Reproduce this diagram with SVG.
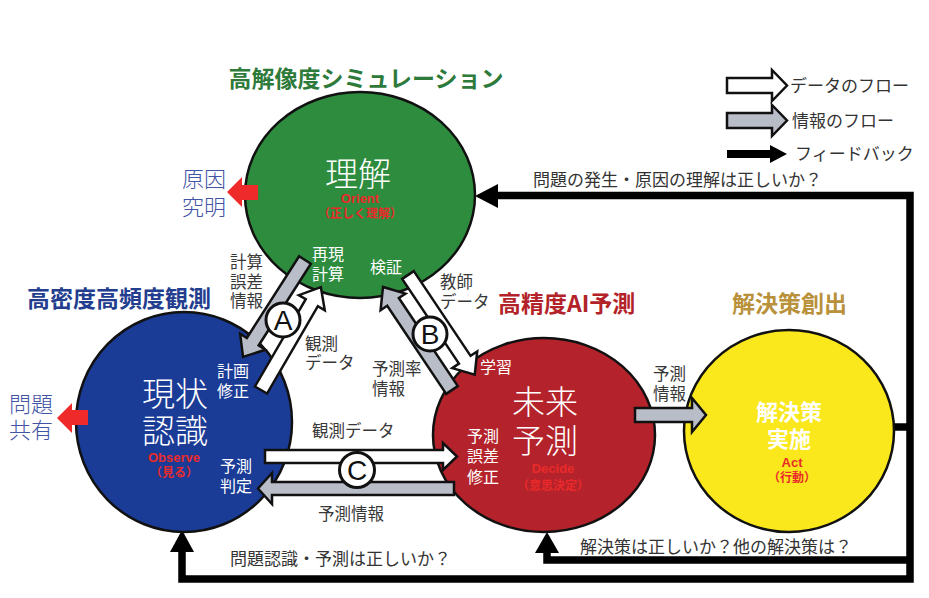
<svg xmlns="http://www.w3.org/2000/svg" width="929" height="598" viewBox="0 0 929 598">
<style>
text{font-family:"Noto Sans CJK JP","Noto Sans CJK SC",sans-serif;}
.node{stroke:#111;stroke-width:2.5;}
.title{font-size:23px;font-weight:bold;}
.big{font-size:33px;fill:#fff;font-weight:300;}
.wl{font-size:16px;fill:#fff;}
.lbl{font-size:16.5px;fill:#383838;}
.fbt{font-size:17px;fill:#333;}
.side{font-size:22px;fill:#4254a4;font-weight:300;}
.en{font-family:"Liberation Sans",Arial,sans-serif;font-weight:bold;font-size:13px;fill:#ea2a2a;}
.sub{font-size:12px;font-weight:bold;fill:#ea2a2a;}
.aw{fill:#fff;stroke:#111;stroke-width:2.5;}
.ag{fill:#b9bdc8;stroke:#111;stroke-width:2.5;}
.ab{fill:#000;}
.red{fill:#ee2a2a;}
.fb{fill:none;stroke:#000;stroke-width:7.5;}
.let{font-family:"Liberation Sans",Arial,sans-serif;font-size:28px;fill:#111;text-anchor:middle;}
.lc{fill:#fff;stroke:#111;stroke-width:3;}
.m{text-anchor:middle;}
</style>
<rect width="929" height="598" fill="#fff"/>

<!-- titles -->
<text class="title m" x="366" y="87" fill="#2d7a3a">高解像度シミュレーション</text>
<text class="title" x="27" y="307" fill="#233d8f">高密度高頻度観測</text>
<text class="title" x="498" y="312" fill="#b32228">高精度AI予測</text>
<text class="title" x="732" y="312" fill="#b8913a">解決策創出</text>

<!-- legend -->
<g id="legend">
<polygon class="aw" points="727,78 772,78 772,70 787,85.5 772,101 772,93 727,93"/>
<text class="fbt" x="790" y="92">データのフロー</text>
<polygon class="ag" points="727,113 772,113 772,105 787,120.5 772,136 772,128 727,128"/>
<text class="fbt" x="792" y="127">情報のフロー</text>
<polygon class="ab" points="727,150 770,150 770,145 787,154 770,163 770,158 727,158"/>
<text class="fbt" x="795" y="160">フィードバック</text>
</g>

<!-- connectors -->
<g id="connectors">
<path class="fb" d="M 496 195.5 H 910 V 579 H 182 V 550"/>
<polygon class="ab" points="475,196 498,184 498,208"/>
<polygon class="ab" points="182,530 170,552 194,552"/>
<path class="fb" d="M 910 560 H 547 V 550"/>
<polygon class="ab" points="547,532 535,553 559,553"/>
<path class="fb" d="M 892 427 H 910"/>
</g>

<!-- nodes -->
<g id="orient">
<ellipse class="node" cx="360" cy="195" rx="115" ry="103" fill="#2e8c3e"/>
<text class="big m" x="358" y="186">理解</text>
<text class="en m" x="360" y="203">Orient</text>
<text class="sub m" x="360" y="218">（正しく理解）</text>
<text class="wl" x="312" y="260">再現</text>
<text class="wl" x="312" y="280">計算</text>
<text class="wl" x="370" y="273">検証</text>
</g>
<g id="observe">
<ellipse class="node" cx="184" cy="422" rx="108" ry="110" fill="#1b3c96"/>
<text class="big m" x="175" y="406">現状</text>
<text class="big m" x="175" y="443">認識</text>
<text class="en m" x="174" y="462">Observe</text>
<text class="sub m" x="174" y="477">（見る）</text>
<text class="wl" x="217" y="377">計画</text>
<text class="wl" x="217" y="397">修正</text>
<text class="wl" x="220" y="472">予測</text>
<text class="wl" x="220" y="492">判定</text>
</g>
<g id="decide">
<ellipse class="node" cx="544" cy="435" rx="111" ry="97" fill="#b4232b"/>
<text class="big m" x="545" y="414">未来</text>
<text class="big m" x="545" y="453">予測</text>
<text class="en m" x="553" y="473">Decide</text>
<text class="sub m" x="553" y="490">（意思決定）</text>
<text class="wl" x="480" y="373">学習</text>
<text class="wl" x="467" y="442">予測</text>
<text class="wl" x="467" y="462">誤差</text>
<text class="wl" x="467" y="483">修正</text>
</g>
<g id="act">
<ellipse class="node" cx="789" cy="431" rx="105" ry="101" fill="#fae81c"/>
<text class="m" x="789" y="420" font-size="22" font-weight="bold" fill="#fff">解決策</text>
<text class="m" x="789" y="447" font-size="22" font-weight="bold" fill="#fff">実施</text>
<text class="en m" x="792" y="467">Act</text>
<text class="sub m" x="792" y="482">（行動）</text>
</g>

<!-- flow arrows -->
<g id="flows">
<polygon class="ag" transform="translate(305,260) rotate(122.6)" points="0,-7 97,-7 97,-15 115,0 97,15 97,7 0,7"/>
<polygon class="aw" transform="translate(261,390) rotate(-59.8)" points="0,-7 101,-7 101,-15 119,0 101,15 101,7 0,7"/>
<polygon class="ag" transform="translate(452,390) rotate(-123.8)" points="0,-7 106,-7 106,-15 124,0 106,15 106,7 0,7"/>
<polygon class="aw" transform="translate(408,275) rotate(56.2)" points="0,-7 102,-7 102,-15 120,0 102,15 102,7 0,7"/>
<polygon class="aw" points="265,450 443,450 443,443 457,456.5 443,470 443,463 265,463"/>
<polygon class="ag" points="454,482 272,482 272,473 258,488.5 272,504 272,495 454,495"/>
<polygon class="ag" points="635,408 692,408 692,398 706,415 692,432 692,422 635,422"/>
</g>
<g id="labelA"><circle class="lc" cx="283" cy="320" r="17"/><text class="let" x="283" y="330">A</text></g>
<g id="labelB"><circle class="lc" cx="430" cy="334" r="17"/><text class="let" x="430" y="344">B</text></g>
<g id="labelC"><circle class="lc" cx="357" cy="470" r="17.5"/><text class="let" x="357" y="480">C</text></g>

<!-- side outputs -->
<g id="cause">
<polygon class="red" points="227,192 242,177 242,185 258,185 258,200 242,200 242,207"/>
<text class="side" x="182" y="187">原因</text>
<text class="side" x="182" y="215">究明</text>
</g>
<g id="share">
<polygon class="red" points="57,418 72,403 72,410 88,410 88,425 72,425 72,433"/>
<text class="side" x="9" y="412">問題</text>
<text class="side" x="9" y="438">共有</text>
</g>

<!-- flow labels -->
<text class="lbl" x="230" y="268">計算</text>
<text class="lbl" x="230" y="288">誤差</text>
<text class="lbl" x="230" y="307">情報</text>
<text class="lbl" x="305" y="350">観測</text>
<text class="lbl" x="305" y="369">データ</text>
<text class="lbl" x="440" y="288">教師</text>
<text class="lbl" x="440" y="308">データ</text>
<text class="lbl" x="372" y="375">予測率</text>
<text class="lbl" x="372" y="395">情報</text>
<text class="lbl" x="312" y="437">観測データ</text>
<text class="lbl" x="318" y="520">予測情報</text>
<text class="lbl" x="653" y="380">予測</text>
<text class="lbl" x="653" y="400">情報</text>

<!-- feedback labels -->
<text class="fbt" x="533" y="186">問題の発生・原因の理解は正しいか？</text>
<text class="fbt" x="580" y="553">解決策は正しいか？他の解決策は？</text>
<text class="fbt" x="230" y="565">問題認識・予測は正しいか？</text>
</svg>
